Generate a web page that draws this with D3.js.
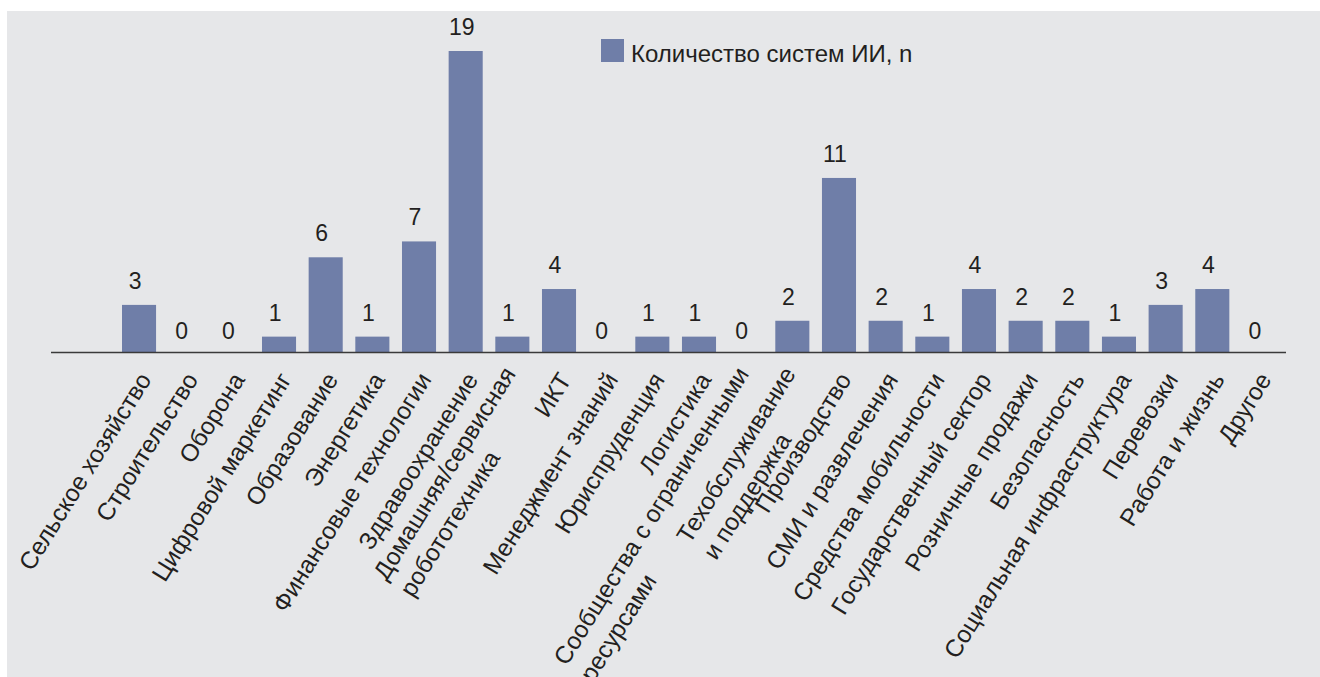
<!DOCTYPE html>
<html>
<head>
<meta charset="utf-8">
<script src="https://cdn.jsdelivr.net/npm/d3@7"></script>
<style>
  html, body { margin: 0; padding: 0; background: #fff; }
  svg { display: block; font-family: "Liberation Sans", Arial, sans-serif; }
</style>
</head>
<body>
<svg id="chart" width="1320" height="677"></svg>
<script>
// categories (line breaks as in the source labels)
const categories = [
    'Сельское хозяйство', 'Строительство', 'Оборона', 'Цифровой маркетинг',
    'Образование', 'Энергетика', 'Финансовые технологии', 'Здравоохранение',
    'Домашняя/сервисная\nробототехника', 'ИКТ', 'Менеджмент знаний', 'Юриспруденция',
    'Логистика', 'Сообщества с ограниченными\nресурсами', 'Техобслуживание\nи поддержка',
    'Производство', 'СМИ и развлечения', 'Средства мобильности', 'Государственный сектор',
    'Розничные продажи', 'Безопасность', 'Социальная инфраструктура', 'Перевозки',
    'Работа и жизнь', 'Другое'
];
const values = [3, 0, 0, 1, 6, 1, 7, 19, 1, 4, 0, 1, 1, 0, 2, 11, 2, 1, 4, 2, 2, 1, 3, 4, 0];
const seriesName = 'Количество систем ИИ, n';

const BAR = '#6f7ea8';
const INK = '#231f20';

const svg = d3.select('#chart');

// grey panel
svg.append('rect')
    .attr('x', 7).attr('y', 11)
    .attr('width', 1313).attr('height', 666)
    .attr('fill', '#e6e7e9');

const x = d3.scaleBand()
    .domain(categories)
    .range([115.7, 1282.3])
    .paddingInner(0.27)
    .paddingOuter(0.135);

const base = 352.5;
const y = d3.scaleLinear().domain([0, 19]).range([base, 51]);

// bars
svg.selectAll('.bar')
    .data(values)
    .join('rect')
    .attr('class', 'bar')
    .attr('x', (d, i) => x(categories[i]))
    .attr('y', d => y(d))
    .attr('width', x.bandwidth())
    .attr('height', d => base - y(d))
    .attr('fill', BAR);

// baseline
svg.append('line')
    .attr('x1', 51).attr('x2', 1286)
    .attr('y1', base).attr('y2', base)
    .attr('stroke', '#3a3a3a')
    .attr('stroke-width', 1.3);

// value labels
svg.selectAll('.val')
    .data(values)
    .join('text')
    .attr('class', 'val')
    .attr('x', (d, i) => x(categories[i]) + x.bandwidth() / 2 - 4)
    .attr('y', d => y(d) - (d === 0 ? 13.5 : 16))
    .attr('text-anchor', 'middle')
    .attr('font-size', 23)
    .attr('fill', INK)
    .text(d => d);

// category labels, rotated; lines left-aligned, first line ends at the tick
const ANG = -58;
const lab = svg.selectAll('.cat')
    .data(categories)
    .join('text')
    .attr('class', 'cat')
    .attr('font-size', 24.4)
    .attr('fill', INK);

lab.each(function (d) {
    const t = d3.select(this);
    const lines = d.split('\n');
    const lift = (lines.length - 1) * 0.44;
    lines.forEach((ln, k) => {
        t.append('tspan')
            .attr('x', 0)
            .attr('dy', k === 0 ? `${0.35 - lift}em` : '1.28em')
            .text(ln);
    });
    const L = t.select('tspan').node().getComputedTextLength();
    const cx = x(d) + x.bandwidth() / 2 + 6;
    t.attr('transform', `translate(${cx},375) rotate(${ANG}) translate(${-L},0)`);
});

// legend
svg.append('rect')
    .attr('x', 601).attr('y', 39)
    .attr('width', 23).attr('height', 23)
    .attr('fill', BAR);
svg.append('text')
    .attr('x', 631).attr('y', 62)
    .attr('font-size', 24)
    .attr('fill', INK)
    .text(seriesName);
</script>
</body>
</html>
